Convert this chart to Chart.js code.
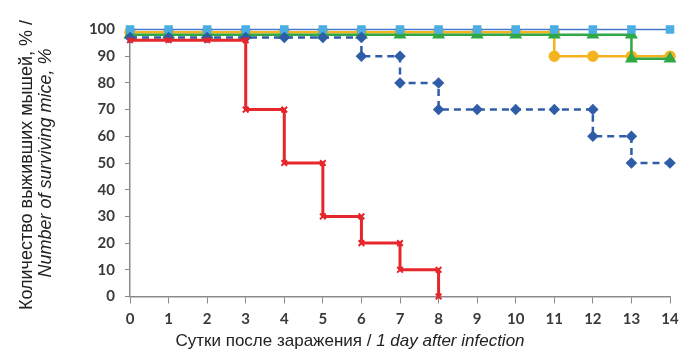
<!DOCTYPE html>
<html>
<head>
<meta charset="utf-8">
<script src="https://cdn.jsdelivr.net/npm/chart.js@4/dist/chart.umd.min.js"></script>
<style>
  body { margin: 0; background: #fff; }
  #wrap { width: 680px; height: 356px; }
</style>
</head>
<body>
<div id="wrap"><canvas id="grafiek" width="680" height="356"></canvas></div>
<script>
// dagen en overleving (%) per groep, dubbele dagen = trap naar beneden
const xTicks = [0,1,2,3,4,5,6,7,8,9,10,11,12,13,14];
const yTicks = [0,10,20,30,40,50,60,70,80,90,100];

const redDays  = [0,1,2,3,3,4,4,5,5,6,6,7,7,8,8];
const redVals  = [96,96,96,96,70,70,50,50,30,30,20,20,10,10,0];

const navyDays = [0,1,2,3,4,5,6,6,7,7,8,8,9,10,11,12,12,13,13,14];
const navyVals = [97,97,97,97,97,97,97,90,90,80,80,70,70,70,70,70,60,60,50,50];

const skyDays  = [0,1,2,3,4,5,6,7,8,9,10,11,12,13,14];
const skyVals  = [100,100,100,100,100,100,100,100,100,100,100,100,100,100,100];

const yellowDays = [0,1,2,3,4,5,6,7,8,9,10,11,11,12,13,14];
const yellowVals = [99,99,99,99,99,99,99,99,99,99,99,99,90,90,90,90];

const greenDays = [0,1,2,3,4,5,6,7,8,9,10,11,12,13,13,14];
const greenVals = [98,98,98,98,98,98,98,98,98,98,98,98,98,98,89,89];

const yTitle1 = 'Количество выживших мышей, % /';
const yTitle2 = 'Number of surviving mice, %';
const xTitle1 = 'Сутки после заражения / ';
const xTitle2 = '1 day after infection';

function punten(days, vals) {
    return days.map((d, i) => ({ x: d, y: vals[i] }));
}

const titleFont = '"Liberation Sans Narrow", "Liberation Sans", Arial, sans-serif';

// as-titels met gemengd recht/cursief
const titels = {
    id: 'titels',
    afterDraw(chart) {
        const ctx = chart.ctx;
        ctx.save();
        ctx.fillStyle = '#222';
        ctx.textBaseline = 'middle';

        // x-titel
        const f1 = '17px ' + titleFont;
        const f2 = 'italic 17px ' + titleFont;
        ctx.font = f1;
        const w1 = ctx.measureText(xTitle1).width;
        ctx.font = f2;
        const w2 = ctx.measureText(xTitle2).width;
        let x = 350 - (w1 + w2) / 2;
        ctx.textAlign = 'left';
        ctx.font = f1;
        ctx.fillText(xTitle1, x, 341);
        ctx.font = f2;
        ctx.fillText(xTitle2, x + w1, 341);

        // y-titel, gedraaid
        const g1 = '18px ' + titleFont;
        const g2 = 'italic 18px ' + titleFont;
        ctx.save();
        ctx.translate(27, 165);
        ctx.rotate(-Math.PI / 2);
        ctx.textAlign = 'center';
        ctx.font = g1;
        ctx.fillText(yTitle1, 0, 0);
        ctx.restore();
        ctx.save();
        ctx.translate(46, 163);
        ctx.rotate(-Math.PI / 2);
        ctx.textAlign = 'center';
        ctx.font = g2;
        ctx.fillText(yTitle2, 0, 0);
        ctx.restore();

        ctx.restore();
    }
};

const ctx = document.getElementById('grafiek').getContext('2d');
new Chart(ctx, {
    type: 'line',
    data: {
        datasets: [
            {
                label: 'red',
                data: punten(redDays, redVals),
                borderColor: '#e5262b',
                backgroundColor: '#e5262b',
                borderWidth: 3,
                pointStyle: 'crossRot',
                pointRadius: 4,
                pointBorderWidth: 2,
            },
            {
                label: 'navy',
                data: punten(navyDays, navyVals),
                borderColor: '#2f5da8',
                backgroundColor: '#2f5da8',
                borderWidth: 2.5,
                borderDash: [7, 5],
                pointStyle: 'rectRot',
                pointRadius: 4,
            },
            {
                label: 'sky',
                data: punten(skyDays, skyVals),
                borderColor: '#4a78cc',
                backgroundColor: '#4aaee3',
                pointBorderColor: '#4aaee3',
                borderWidth: 1.5,
                pointStyle: 'rect',
                pointRadius: 5,
            },
            {
                label: 'green',
                data: punten(greenDays, greenVals),
                borderColor: '#2fa845',
                backgroundColor: '#2fa845',
                borderWidth: 2.5,
                pointStyle: 'triangle',
                pointRadius: 5,
            },
            {
                label: 'yellow',
                data: punten(yellowDays, yellowVals),
                borderColor: '#f4b41f',
                backgroundColor: '#f4b41f',
                borderWidth: 2.5,
                pointStyle: 'circle',
                pointRadius: 4.5,
            }
        ]
    },
    options: {
        responsive: false,
        animation: false,
        clip: false,
        layout: { padding: { top: 29.5, right: 10, left: 0, bottom: 0 } },
        plugins: {
            legend: { display: false },
            tooltip: { enabled: false }
        },
        scales: {
            x: {
                type: 'linear',
                min: 0,
                max: 14,
                afterFit: s => { s.height = 59.5; s.paddingLeft = 0; s.paddingRight = 0; },
                afterBuildTicks: s => { s.ticks = xTicks.map(v => ({ value: v })); },
                grid: { drawOnChartArea: false, tickLength: 7, color: '#8a8a8a' },
                border: { color: '#8a8a8a', width: 1.5 },
                ticks: {
                    color: '#3a3a3a',
                    padding: 7,
                    font: { family: 'Lato', size: 15, weight: 'bold' }
                }
            },
            y: {
                min: 0,
                max: 100,
                afterFit: s => { s.width = 130; },
                afterBuildTicks: s => { s.ticks = yTicks.map(v => ({ value: v })); },
                grid: { drawOnChartArea: false, tickLength: 5, color: '#8a8a8a' },
                border: { color: '#8a8a8a', width: 1.5 },
                ticks: {
                    color: '#3a3a3a',
                    padding: 10,
                    font: { family: 'Lato', size: 15, weight: 'bold' }
                }
            }
        }
    },
    plugins: [titels]
});
</script>
</body>
</html>
